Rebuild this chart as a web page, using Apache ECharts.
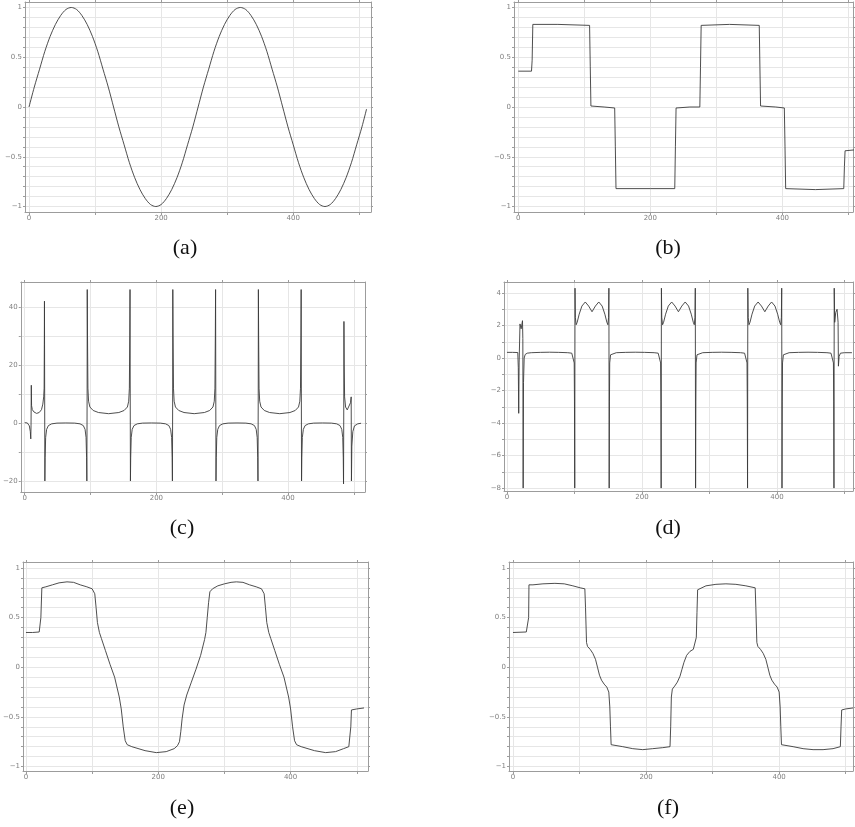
<!DOCTYPE html>
<html>
<head>
<meta charset="utf-8">
<script src="https://cdn.jsdelivr.net/npm/echarts@6.0.0/dist/echarts.min.js"></script>
<style>
  html, body { margin: 0; padding: 0; background: #fff; }
  #chart { width: 855px; height: 827px; }
</style>
</head>
<body>
<div id="chart"></div>
<script>
// tick values
const xTicks = [0, 100, 200, 300, 400, 500];
const xLabels = [0, 200, 400];
const unitTicks = [-1, -0.9, -0.8, -0.7, -0.6, -0.5, -0.4, -0.3, -0.2, -0.1, 0, 0.1, 0.2, 0.3, 0.4, 0.5, 0.6, 0.7, 0.8, 0.9, 1];
const unitLabels = [-1, -0.5, 0, 0.5, 1];
const cTicks = [-20, -10, 0, 10, 20, 30, 40];
const cLabels = [-20, 0, 20, 40];
const dTicks = [-8, -7, -6, -5, -4, -3, -2, -1, 0, 1, 2, 3, 4];
const dLabels = [-8, -6, -4, -2, 0, 2, 4];

// (a) sine
const dataA = [[0,0],[8,0.2],[16,0.38],[24,0.56],[32,0.71],[40,0.83],[48,0.92],[56,0.98],[64,1],[72,0.98],[80,0.92],[88,0.83],[96,0.71],[104,0.56],[112,0.38],[120,0.2],[128,0],[136,-0.2],[144,-0.38],[152,-0.56],[160,-0.71],[168,-0.83],[176,-0.92],[184,-0.98],[192,-1],[200,-0.98],[208,-0.92],[216,-0.83],[224,-0.71],[232,-0.56],[240,-0.38],[248,-0.2],[256,0],[264,0.2],[272,0.38],[280,0.56],[288,0.71],[296,0.83],[304,0.92],[312,0.98],[320,1],[328,0.98],[336,0.92],[344,0.83],[352,0.71],[360,0.56],[368,0.38],[376,0.2],[384,0],[392,-0.2],[400,-0.38],[408,-0.56],[416,-0.71],[424,-0.83],[432,-0.92],[440,-0.98],[448,-1],[456,-0.98],[464,-0.92],[472,-0.83],[480,-0.71],[488,-0.56],[496,-0.38],[504,-0.2],[511,-0.02]];

// (b) staircase
const dataB = [[0,0.36],[20,0.36],[21,0.47],[22,0.83],[60,0.83],[108,0.82],[109,0.41],[110,0.01],[130,0],[146,-0.01],[147,-0.4],[148,-0.82],[200,-0.82],[237,-0.82],[238,-0.4],[239,-0.01],[260,0],[275,0],[276,0.4],[277,0.82],[320,0.83],[365,0.82],[366,0.4],[367,0.01],[390,0],[403,-0.01],[404,-0.4],[405,-0.82],[450,-0.83],[493,-0.82],[494,-0.6],[495,-0.44],[511,-0.43]];

// (c) spikes
const dataC = [[0,0.1],[4,0],[7,-1],[8.5,-3],[9.2,-5.5],[9.6,-1],[10,13],[10.4,6],[11.5,4.6],[14,3.8],[18,3.3],[22,3.6],[25.5,4.6],[27.5,6.5],[28.8,9],[29.5,12],[29.8,27],[30,42],
  [30.3,10],[30.6,-20],[31,-12],[31.8,-5],[33.3,-2.2],[36,-0.9],[41,-0.3],[49,-0.05],[62.5,0],[76,-0.05],[84,-0.3],[89,-0.9],[91.7,-2.2],[93.2,-5],[94,-12],[94.4,-20],[94.8,10],
  [95,46],[95.4,30],[96,12],[97,7.5],[99,5.5],[104,4.3],[112,3.6],[127.5,3.2],[143,3.6],[151,4.3],[156,5.5],[158,7.5],[159,12],[159.6,30],[160,46],
  [160.3,10],[160.6,-20],[161,-12],[161.8,-5],[163.3,-2.2],[166,-0.9],[171,-0.3],[179,-0.05],[192.5,0],[206,-0.05],[214,-0.3],[219,-0.9],[221.7,-2.2],[223.2,-5],[224,-12],[224.4,-20],[224.8,10],
  [225,46],[225.4,30],[226,12],[227,7.5],[229,5.5],[234,4.3],[242,3.6],[257.5,3.2],[273,3.6],[281,4.3],[286,5.5],[288,7.5],[289,12],[289.6,30],[290,46],
  [290.3,10],[290.6,-20],[291,-12],[291.8,-5],[293.3,-2.2],[296,-0.9],[301,-0.3],[309,-0.05],[322.5,0],[336,-0.05],[344,-0.3],[349,-0.9],[351.7,-2.2],[353.2,-5],[354,-12],[354.4,-20],[354.8,10],
  [355,46],[355.4,30],[356,12],[357,7.5],[359,5.5],[364,4.3],[372,3.6],[387.5,3.2],[403,3.6],[411,4.3],[416,5.5],[418,7.5],[419,12],[419.6,30],[420,46],
  [420.3,10],[420.6,-20],[421,-12],[421.8,-5],[423.3,-2.2],[426,-0.9],[431,-0.3],[439,-0.05],[452.5,0],[466,-0.05],[474,-0.3],[479,-0.9],[481.7,-2.2],[483.2,-5],[484,-12],[484.4,-21],[484.8,10],
  [485,35],[485.4,20],[486,9],[487.5,5.5],[490,4.5],[493,5],[495,7],[496,9],[496.4,-20],[497,-8],[498.5,-3],[501,-1],[506,-0.3],[511,-0.1]];

// (d) spikes with wavy plateaus
const dataD = [[0,0.35],[8,0.35],[16,0.34],[16.8,-0.6],[17.4,-3.4],[18,-0.3],[19.3,2.1],[21,1.8],[23,2.3],[23.5,1.2],[24,-8],[24.5,-1.5],[25.5,0],[27,0.22],[30,0.3],[36,0.33],[50,0.35],[63,0.36],[76,0.35],[90,0.33],[96,0.3],[98.5,0.2],[99.6,-0.3],[100,-2.7],[100.4,-8],[100.8,4.3],
  [101.3,2.5],[102.5,2.05],[104,2.2],[107,2.7],[111,3.2],[116,3.45],[121,3.2],[126,2.85],[131,3.2],[136,3.45],[141,3.2],[145,2.7],[148,2.2],[149.5,2.05],[150.5,2.5],[151,4.3],
  [151.4,-8],[151.8,-2.7],[152.2,-0.3],[153.5,0.2],[156,0.3],[162,0.33],[176,0.35],[190,0.36],[204,0.35],[218,0.33],[224,0.3],[226.5,0.2],[227.6,-0.3],[228,-2.7],[228.4,-8],[228.8,4.3],
  [229.3,2.5],[230.5,2.05],[232,2.2],[235,2.7],[239,3.2],[244,3.45],[249,3.2],[254,2.85],[259,3.2],[264,3.45],[269,3.2],[273,2.7],[276,2.2],[277.5,2.05],[278.5,2.5],[279,4.3],
  [279.4,-8],[279.8,-2.7],[280.2,-0.3],[281.5,0.2],[284,0.3],[290,0.33],[304,0.35],[318,0.36],[332,0.35],[346,0.33],[352,0.3],[354.5,0.2],[355.6,-0.3],[356,-2.7],[356.4,-8],[356.8,4.3],
  [357.3,2.5],[358.5,2.05],[360,2.2],[363,2.7],[367,3.2],[372,3.45],[377,3.2],[382,2.85],[387,3.2],[392,3.45],[397,3.2],[401,2.7],[404,2.2],[405.5,2.05],[406.5,2.5],[407,4.3],
  [407.4,-8],[407.8,-2.7],[408.2,-0.3],[409.5,0.2],[412,0.3],[418,0.33],[432,0.35],[446,0.36],[460,0.35],[474,0.33],[480,0.3],[482.5,0.2],[483.6,-0.3],[484,-2.7],[484.4,-8],[484.8,4.3],
  [485.5,2.2],[487,2.8],[489,3.0],[490.5,2.2],[491,-0.5],[492,0.1],[494,0.3],[500,0.33],[511,0.33]];

// (e) smoothed staircase
const dataE = [[0,0.35],[10,0.35],[20,0.355],[21,0.36],[22.5,0.5],[24,0.8],[30,0.81],[40,0.83],[50,0.85],[62,0.86],[72,0.855],[82,0.83],[92,0.81],[100,0.79],[104,0.74],[106,0.6],[108,0.45],[111,0.35],[114,0.29],[120,0.17],[127,0.03],[134,-0.1],[141,-0.3],[144,-0.42],[147,-0.6],[150,-0.74],[153,-0.78],[160,-0.8],[180,-0.84],[197,-0.86],[212,-0.85],[224,-0.82],[229,-0.79],[232,-0.75],[234,-0.65],[236,-0.52],[239,-0.38],[243,-0.28],[250,-0.15],[257,-0.02],[264,0.12],[270,0.28],[272,0.35],[274,0.5],[276,0.65],[278,0.76],[282,0.79],[290,0.82],[300,0.84],[310,0.855],[318,0.86],[328,0.855],[338,0.83],[348,0.81],[356,0.79],[360,0.74],[362,0.6],[364,0.45],[367,0.35],[370,0.29],[376,0.17],[383,0.03],[390,-0.1],[397,-0.3],[400,-0.42],[403,-0.6],[406,-0.74],[409,-0.78],[416,-0.8],[436,-0.84],[453,-0.86],[468,-0.85],[480,-0.82],[488,-0.8],[490,-0.79],[491,-0.6],[492,-0.43],[500,-0.42],[511,-0.41]];

// (f) staircase with s-shaped edges
const dataF = [[0,0.35],[20,0.355],[22.5,0.36],[23.5,0.5],[24,0.83],[30,0.83],[45,0.84],[63,0.845],[77,0.84],[90,0.82],[101,0.8],[108,0.79],[109,0.6],[110.5,0.25],[112,0.21],[116,0.18],[120,0.14],[124,0.08],[127,0],[130,-0.08],[133,-0.13],[137,-0.17],[141,-0.2],[144,-0.25],[145.5,-0.4],[146.5,-0.6],[147.5,-0.78],[150,-0.79],[165,-0.8],[180,-0.82],[195,-0.83],[210,-0.82],[225,-0.81],[236,-0.8],[237,-0.6],[238,-0.3],[239.5,-0.22],[243,-0.19],[247,-0.15],[251,-0.09],[254,-0.02],[257,0.05],[261,0.12],[266,0.16],[271,0.18],[274,0.2],[275.5,0.3],[276.5,0.55],[277.5,0.78],[280,0.8],[290,0.82],[305,0.835],[320,0.84],[335,0.835],[350,0.82],[364,0.8],[365,0.6],[366.5,0.25],[368,0.21],[372,0.18],[376,0.14],[380,0.08],[383,0],[386,-0.08],[389,-0.13],[393,-0.17],[397,-0.2],[400,-0.25],[401.5,-0.4],[402.5,-0.6],[403.5,-0.78],[406,-0.79],[421,-0.8],[436,-0.82],[451,-0.83],[466,-0.83],[481,-0.82],[492,-0.8],[493,-0.6],[494,-0.43],[500,-0.42],[511,-0.41]];

const panels = [
  { name: '(a)', data: dataA, smooth: true,  yTicks: unitTicks, yLabels: unitLabels, box: [25, 2, 346, 210],  xr: [-6.06, 517.7], yr: [-1.055, 1.055], cap: [185, 248] },
  { name: '(b)', data: dataB, smooth: false, yTicks: unitTicks, yLabels: unitLabels, box: [514, 2, 339, 210], xr: [-6.5, 507],    yr: [-1.055, 1.055], cap: [668, 248] },
  { name: '(c)', data: dataC, smooth: false, yTicks: cTicks,    yLabels: cLabels,    box: [17, 282, 348, 210], xr: [-6, 517],      yr: [-23.8, 48.6],   cap: [182, 528] },
  { name: '(d)', data: dataD, smooth: false, yTicks: dTicks,    yLabels: dLabels,    box: [504, 282, 349, 209], xr: [-4.4, 512.6], yr: [-8.18, 4.68],   cap: [668, 528] },
  { name: '(e)', data: dataE, smooth: false, yTicks: unitTicks, yLabels: unitLabels, box: [21, 562, 347, 209], xr: [-4.5, 517],    yr: [-1.045, 1.06],  cap: [182, 808] },
  { name: '(f)', data: dataF, smooth: false, yTicks: unitTicks, yLabels: unitLabels, box: [509, 562, 344, 209], xr: [-6, 511],     yr: [-1.045, 1.06],  cap: [668, 808] }
];

const frame = '#9c9c9c';
const gridColor = '#e6e6e6';
const minusFmt = v => String(v).replace('-', '\u2212');
const labelStyle = { fontSize: 7, color: '#808080', fontFamily: 'DejaVu Sans' };

const grid = [], xAxis = [], yAxis = [], series = [], graphic = [];
panels.forEach((p, i) => {
  grid.push({ left: p.box[0], top: p.box[1], width: p.box[2], height: p.box[3], containLabel: false });
  xAxis.push({
    type: 'value', gridIndex: i, position: 'bottom', min: p.xr[0], max: p.xr[1],
    axisLine: { show: true, onZero: false, lineStyle: { color: frame, width: 1 } },
    axisTick: { show: true, length: 3, customValues: xTicks, lineStyle: { color: frame } },
    axisLabel: { show: true, customValues: xLabels, margin: 3, formatter: minusFmt, ...labelStyle },
    splitLine: { show: true, lineStyle: { color: gridColor, width: 1 } }
  });
  xAxis.push({
    type: 'value', gridIndex: i, position: 'top', min: p.xr[0], max: p.xr[1],
    axisLine: { show: true, onZero: false, lineStyle: { color: frame, width: 1 } },
    axisTick: { show: true, length: 2, customValues: xTicks, lineStyle: { color: frame } },
    axisLabel: { show: false },
    splitLine: { show: false }
  });
  yAxis.push({
    type: 'value', gridIndex: i, position: 'left', min: p.yr[0], max: p.yr[1],
    axisLine: { show: true, onZero: false, lineStyle: { color: frame, width: 1 } },
    axisTick: { show: true, length: 2, customValues: p.yTicks, lineStyle: { color: frame } },
    axisLabel: { show: true, customValues: p.yLabels, margin: 3, formatter: minusFmt, ...labelStyle },
    splitLine: { show: true, lineStyle: { color: gridColor, width: 1 } }
  });
  yAxis.push({
    type: 'value', gridIndex: i, position: 'right', min: p.yr[0], max: p.yr[1],
    axisLine: { show: true, onZero: false, lineStyle: { color: frame, width: 1 } },
    axisTick: { show: true, length: 2, customValues: p.yTicks, lineStyle: { color: frame } },
    axisLabel: { show: false },
    splitLine: { show: false }
  });
  series.push({
    type: 'line', xAxisIndex: 2 * i, yAxisIndex: 2 * i, data: p.data,
    smooth: p.smooth ? 0.3 : false, showSymbol: false, symbol: 'none',
    lineStyle: { color: '#3a3a3a', width: 0.9 }, clip: true, silent: true
  });
  graphic.push({
    type: 'text', x: p.cap[0], y: p.cap[1],
    style: { text: p.name, font: '22px "Liberation Serif", serif', fill: '#111', textAlign: 'center', textVerticalAlign: 'middle', verticalAlign: 'middle' }
  });
});

const chart = echarts.init(document.getElementById('chart'), null, { renderer: 'canvas' });
chart.setOption({
  backgroundColor: '#fff',
  animation: false,
  grid, xAxis, yAxis, series, graphic
});
</script>
</body>
</html>
